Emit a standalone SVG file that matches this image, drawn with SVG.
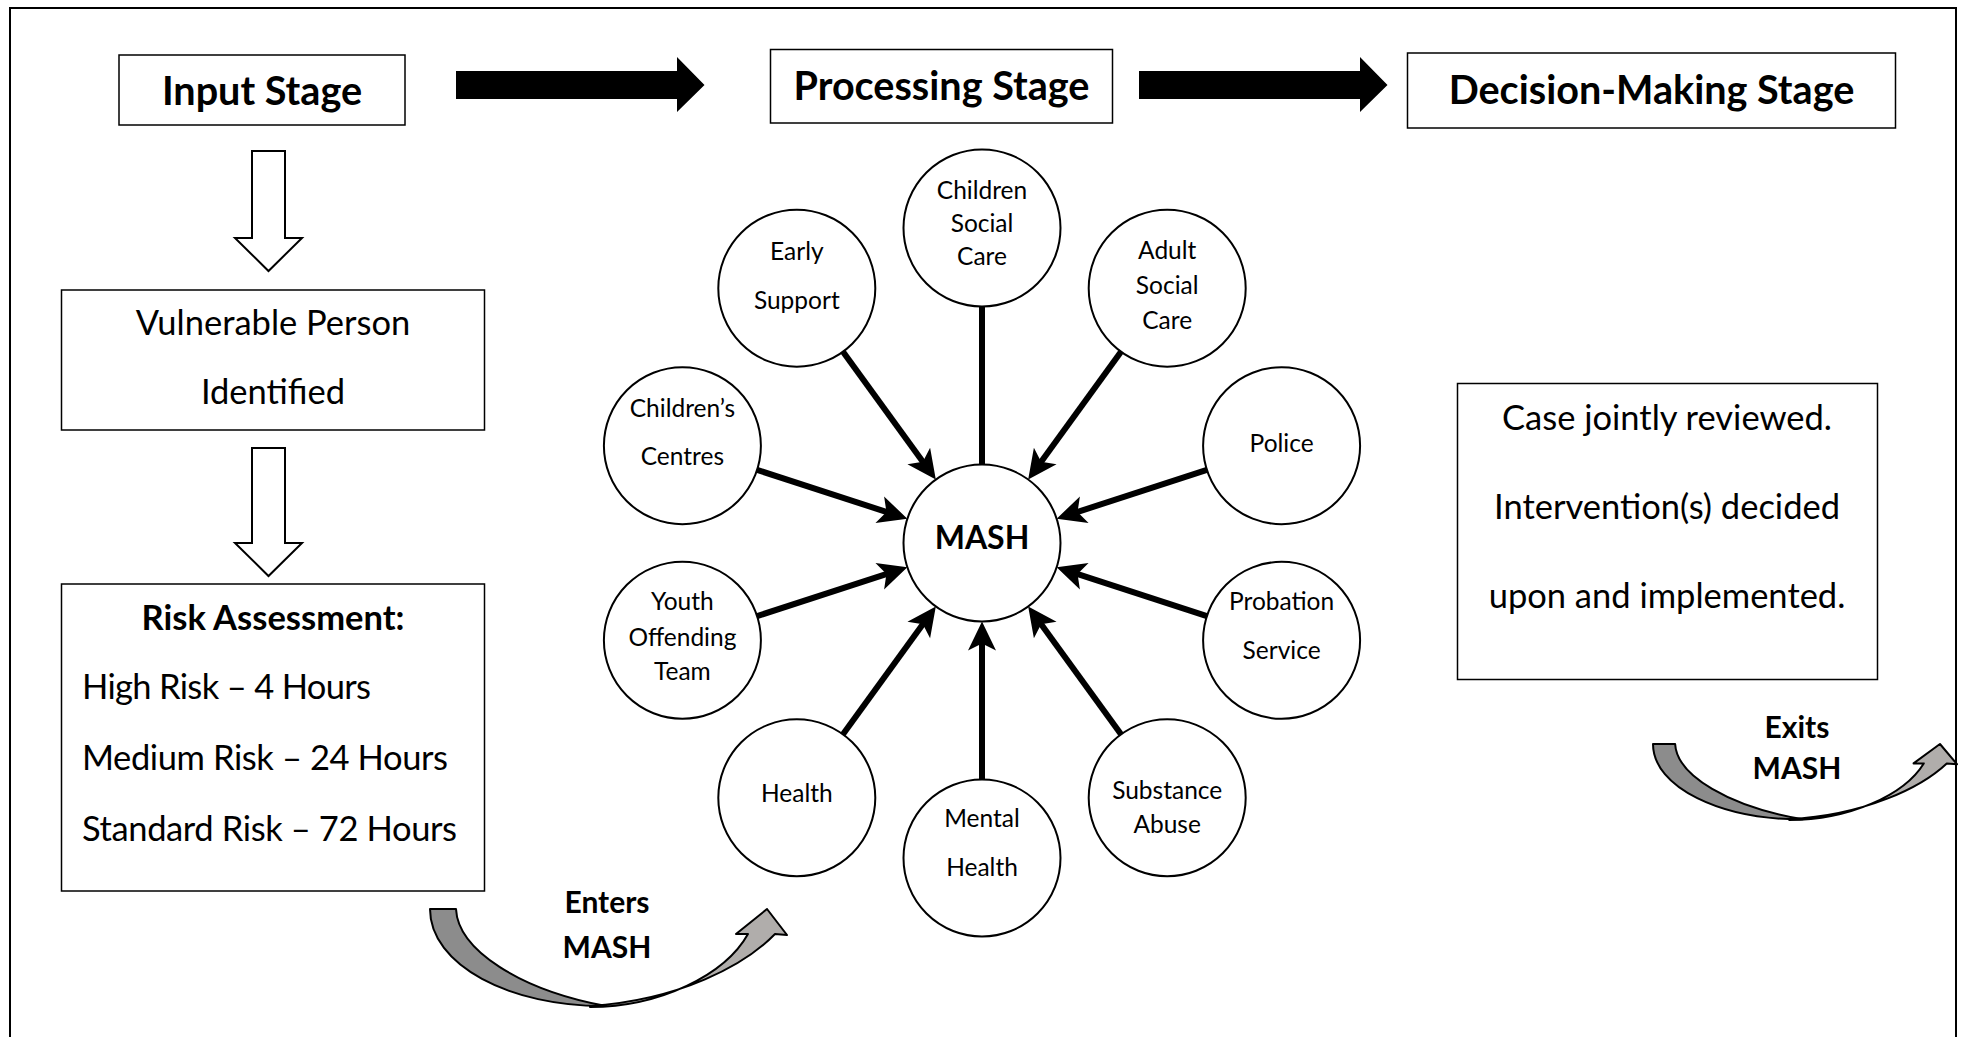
<svg xmlns="http://www.w3.org/2000/svg" width="1964" height="1037" viewBox="0 0 1964 1037">
<defs>
<style>
.t{font-family:Lato,"Open Sans","Liberation Sans",sans-serif;fill:#000;text-anchor:middle}
.b{font-weight:bold}
.hd{font-size:39.6px;font-weight:bold}
.body{font-size:34.5px}
.lbl{font-size:24.5px}
.box{fill:#fff;stroke:#000;stroke-width:1.5}
.node{fill:#fff;stroke:#000;stroke-width:2}
.conn{stroke:#000;stroke-width:6;fill:none}
.hollow{fill:#fff;stroke:#000;stroke-width:2}
.solid{fill:#000}
.dark{fill:#8c8c8c;stroke:#000;stroke-width:2;stroke-linejoin:round}
.light{fill:#b0adab;stroke:#000;stroke-width:2;stroke-linejoin:round}
</style>
<marker id="ah" markerUnits="userSpaceOnUse" markerWidth="40" markerHeight="40" viewBox="-20 -20 40 40" refX="0" refY="0" orient="auto">
<path d="M15,0 L-14,-14 L-7,0 L-14,14 Z" fill="#000"/>
</marker>
</defs>
<rect x="10" y="8" width="1946" height="1100" fill="none" stroke="#000" stroke-width="2"/>

<g id="input-stage"><rect class="box" x="119" y="55" width="286" height="70"/><text class="t hd" x="262" y="105">Input Stage</text></g>
<g id="processing-stage"><rect class="box" x="770.5" y="49.5" width="342" height="73.5"/><text class="t hd" x="941.5" y="100">Processing Stage</text></g>
<g id="decision-stage"><rect class="box" x="1407.5" y="53" width="488" height="75"/><text class="t hd" x="1651.5" y="103.5">Decision-Making Stage</text></g>

<g id="vulnerable-person"><rect class="box" x="61.5" y="290" width="423" height="140"/><text class="t body" x="273" y="335">Vulnerable Person</text><text class="t body" x="273" y="404">Identified</text></g>
<g id="risk-assessment"><rect class="box" x="61.5" y="584" width="423" height="307"/><text class="t body b" x="273" y="630">Risk Assessment:</text><text class="t body" style="text-anchor:start" x="82" y="699" textLength="289">High Risk – 4 Hours</text><text class="t body" style="text-anchor:start" x="82" y="770" textLength="366">Medium Risk – 24 Hours</text><text class="t body" style="text-anchor:start" x="82" y="841" textLength="375">Standard Risk – 72 Hours</text></g>
<g id="decision-box"><rect class="box" x="1457.5" y="383.5" width="420" height="296"/><text class="t body" x="1667" y="430">Case jointly reviewed.</text><text class="t body" x="1667" y="519">Intervention(s) decided</text><text class="t body" x="1667" y="608">upon and implemented.</text></g>

<g id="mash"><circle class="node" cx="982" cy="543" r="78.5"/><text class="t b" style="font-size:32px" x="982" y="548.5">MASH</text></g>
<g id="children-social-care"><circle class="node" cx="982" cy="228" r="78.5"/><text class="t lbl" x="982" y="199">Children</text><text class="t lbl" x="982" y="232">Social</text><text class="t lbl" x="982" y="264.5">Care</text></g>
<g id="early-support"><circle class="node" cx="796.8" cy="288.2" r="78.5"/><text class="t lbl" x="796.8" y="259.5">Early</text><text class="t lbl" x="796.8" y="308.5">Support</text></g>
<g id="adult-social-care"><circle class="node" cx="1167.2" cy="288.2" r="78.5"/><text class="t lbl" x="1167.2" y="258.5">Adult</text><text class="t lbl" x="1167.2" y="294">Social</text><text class="t lbl" x="1167.2" y="328.5">Care</text></g>
<g id="childrens-centres"><circle class="node" cx="682.4" cy="445.7" r="78.5"/><text class="t lbl" x="682.4" y="416.5">Children’s</text><text class="t lbl" x="682.4" y="464.5">Centres</text></g>
<g id="police"><circle class="node" cx="1281.6" cy="445.7" r="78.5"/><text class="t lbl" x="1281.6" y="452">Police</text></g>
<g id="youth-offending-team"><circle class="node" cx="682.4" cy="640.3" r="78.5"/><text class="t lbl" x="682.4" y="610">Youth</text><text class="t lbl" x="682.4" y="645.5">Offending</text><text class="t lbl" x="682.4" y="680">Team</text></g>
<g id="probation-service"><circle class="node" cx="1281.6" cy="640.3" r="78.5"/><text class="t lbl" x="1281.6" y="610">Probation</text><text class="t lbl" x="1281.6" y="658.5">Service</text></g>
<g id="health"><circle class="node" cx="796.8" cy="797.8" r="78.5"/><text class="t lbl" x="796.8" y="802">Health</text></g>
<g id="mental-health"><circle class="node" cx="982" cy="858" r="78.5"/><text class="t lbl" x="982" y="827">Mental</text><text class="t lbl" x="982" y="876">Health</text></g>
<g id="substance-abuse"><circle class="node" cx="1167.2" cy="797.8" r="78.5"/><text class="t lbl" x="1167.2" y="799">Substance</text><text class="t lbl" x="1167.2" y="833">Abuse</text></g>

<g id="enters-label"><text class="t b" style="font-size:30px" x="607" y="913">Enters</text><text class="t b" style="font-size:30px" x="607" y="958">MASH</text></g>
<g id="exits-label"><text class="t b" style="font-size:30px" x="1797" y="738">Exits</text><text class="t b" style="font-size:30px" x="1797" y="779">MASH</text></g>

<g id="connectors">
<polygon class="solid" points="456,71 677,71 677,57 704.5,85 677,112 677,99 456,99"/>
<polygon class="solid" points="1139,71 1360,71 1360,57 1387.5,85 1360,112 1360,99 1139,99"/>
<polygon class="hollow" points="252,151 285,151 285,238 302,238 268.5,271 235,238 252,238"/>
<polygon class="hollow" points="252,448 285,448 285,543 302,543 268.5,576 235,543 252,543"/>
<line class="conn" x1="982" y1="306.5" x2="982" y2="464.5"/>
<line class="conn" x1="843" y1="351.7" x2="927" y2="467.4" marker-end="url(#ah)"/>
<line class="conn" x1="1121" y1="351.7" x2="1037" y2="467.4" marker-end="url(#ah)"/>
<line class="conn" x1="757.1" y1="469.9" x2="893.1" y2="514.1" marker-end="url(#ah)"/>
<line class="conn" x1="1206.9" y1="469.9" x2="1070.9" y2="514.1" marker-end="url(#ah)"/>
<line class="conn" x1="757.1" y1="616.1" x2="893.1" y2="571.9" marker-end="url(#ah)"/>
<line class="conn" x1="1206.9" y1="616.1" x2="1070.9" y2="571.9" marker-end="url(#ah)"/>
<line class="conn" x1="843" y1="734.3" x2="927" y2="618.6" marker-end="url(#ah)"/>
<line class="conn" x1="1121" y1="734.3" x2="1037" y2="618.6" marker-end="url(#ah)"/>
<line class="conn" x1="982" y1="779.5" x2="982" y2="636.5" marker-end="url(#ah)"/>
<g transform="translate(430,909)">
<path class="light" d="M160,98 C230,98 295,66 318,25 L306,25 L337,0 L357,26 L345,25 C315,56 250,91 160,97 Z"/>
<path class="dark" d="M0,0 L26,0 C28,41 90,81 176,97 C80,98 0,56 0,0 Z"/>
</g>
<g transform="translate(1653,744) scale(0.8515,0.776)">
<path class="light" vector-effect="non-scaling-stroke" d="M160,98 C230,98 295,66 318,25 L306,25 L337,0 L357,26 L345,25 C315,56 250,91 160,97 Z"/>
<path class="dark" vector-effect="non-scaling-stroke" d="M0,0 L26,0 C28,41 90,81 176,97 C80,98 0,56 0,0 Z"/>
</g>
</g>
</svg>
